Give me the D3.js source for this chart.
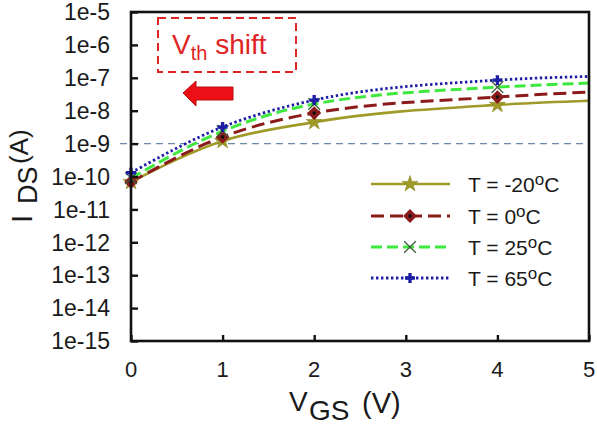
<!DOCTYPE html>
<html>
<head>
<meta charset="utf-8">
<script src="https://cdn.jsdelivr.net/npm/d3@7"></script>
<style>
  html, body { margin: 0; padding: 0; background: #fff; }
  svg { display: block; font-family: Arial, "Liberation Sans", sans-serif; }
</style>
</head>
<body>
<svg id="chart" width="597" height="434"></svg>
<script>
// Gate voltage sweep (V) and drain current (A) per temperature
const vgs = [0, 1, 2, 4, 5];
const markedVgs = [0, 1, 2, 4];
const idsM20 = [6.8e-11, 1.2e-9, 4.5e-9, 1.5e-8, 2.0e-8];
const ids0   = [6.8e-11, 1.6e-9, 8.5e-9, 2.6e-8, 3.7e-8];
const ids25  = [8.9e-11, 2.4e-9, 1.6e-8, 5.2e-8, 6.9e-8];
const ids65  = [1.3e-10, 3.2e-9, 2.1e-8, 8.5e-8, 1.1e-7];
const seriesLabels = ["-20", "0", "25", "65"];
const xTicks = [0, 1, 2, 3, 4, 5];
const yTickExps = [-5, -6, -7, -8, -9, -10, -11, -12, -13, -14, -15];
const referenceCurrent = 1e-9;

const svg = d3.select("#chart");
const plotLeft = 131, plotRight = 589, plotTop = 12, plotBottom = 341;

const x = d3.scaleLinear().domain([0, 5]).range([plotLeft, plotRight]);
const y = d3.scaleLog().domain([1e-15, 1e-5]).range([plotBottom, plotTop]);

const styles = [
  { color: "#a09a28", dash: null, width: 2.6, marker: "star" },
  { color: "#8b1b1b", dash: "13,6", width: 3, marker: "diamond" },
  { color: "#3ee83e", dash: "11,5", width: 3, marker: "times" },
  { color: "#1c1ca4", dash: "2.4,2.6", width: 2.8, marker: "plus" }
];
const allSeries = [idsM20, ids0, ids25, ids65];

// horizontal reference at 1 nA
svg.append("line")
  .attr("x1", plotLeft - 11).attr("x2", plotRight)
  .attr("y1", y(referenceCurrent)).attr("y2", y(referenceCurrent))
  .attr("stroke", "#6d8aa6").attr("stroke-width", 1.3)
  .attr("stroke-dasharray", "7,5");

// curves
const line = d3.line()
  .x(d => x(d[0])).y(d => y(d[1]))
  .curve(d3.curveMonotoneX);

const defs = svg.append("defs");
defs.append("clipPath").attr("id", "plotClip")
  .append("rect").attr("x", plotLeft).attr("y", plotTop)
  .attr("width", plotRight - plotLeft).attr("height", plotBottom - plotTop);

const plot = svg.append("g").attr("clip-path", "url(#plotClip)");

function drawMarker(g, kind, color, cx, cy) {
  if (kind === "star") {
    g.append("path").attr("d", d3.symbol(d3.symbolStar, 80)())
      .attr("transform", `translate(${cx},${cy})`)
      .attr("fill", color).attr("stroke", "#8a8420").attr("stroke-width", 0.6);
  } else if (kind === "diamond") {
    g.append("path").attr("d", d3.symbol(d3.symbolSquare, 95)())
      .attr("transform", `translate(${cx},${cy}) rotate(45)`)
      .attr("fill", color);
    g.append("circle").attr("cx", cx).attr("cy", cy).attr("r", 1.8).attr("fill", "#111");
  } else if (kind === "times") {
    g.append("path").attr("d", d3.symbol(d3.symbolTimes, 90)())
      .attr("transform", `translate(${cx},${cy})`)
      .attr("fill", "none").attr("stroke", "#3f5f3f").attr("stroke-width", 1.3);
  } else if (kind === "plus") {
    g.append("path").attr("d", d3.symbol(d3.symbolCross, 55)())
      .attr("transform", `translate(${cx},${cy})`)
      .attr("fill", color);
  }
}

allSeries.forEach((vals, i) => {
  const s = styles[i];
  const pts = vgs.map((v, j) => [v, vals[j]]);
  plot.append("path").datum(pts)
    .attr("d", line)
    .attr("fill", "none")
    .attr("stroke", s.color)
    .attr("stroke-width", s.width)
    .attr("stroke-dasharray", s.dash);
});
allSeries.forEach((vals, i) => {
  const s = styles[i];
  vgs.forEach((v, j) => {
    if (markedVgs.includes(v)) drawMarker(svg, s.marker, s.color, x(v), y(vals[j]));
  });
});

// frame
svg.append("rect")
  .attr("x", plotLeft).attr("y", plotTop)
  .attr("width", plotRight - plotLeft).attr("height", plotBottom - plotTop)
  .attr("fill", "none").attr("stroke", "#111").attr("stroke-width", 2.6);

// axes with inward ticks
const yAxis = d3.axisRight(y)
  .tickValues(yTickExps.map(e => Math.pow(10, e)))
  .tickSize(7).tickFormat("");
const gy = svg.append("g").attr("transform", `translate(${plotLeft},0)`).call(yAxis);
gy.select(".domain").remove();
gy.selectAll(".tick line").attr("stroke", "#111").attr("stroke-width", 2.4);

svg.append("g").selectAll("text")
  .data(yTickExps)
  .join("text")
  .attr("x", 110)
  .attr("y", e => y(Math.pow(10, e)))
  .attr("dy", "0.36em")
  .attr("text-anchor", "end")
  .attr("font-size", 23)
  .attr("fill", "#1a1a1a")
  .text(e => "1e" + e);

const xAxis = d3.axisTop(x).tickValues(xTicks).tickSize(6).tickFormat("");
const gx = svg.append("g").attr("transform", `translate(0,${plotBottom})`).call(xAxis);
gx.select(".domain").remove();
gx.selectAll(".tick line").attr("stroke", "#111").attr("stroke-width", 2.4);

svg.append("g").selectAll("text")
  .data(xTicks)
  .join("text")
  .attr("x", d => x(d))
  .attr("y", 377)
  .attr("text-anchor", "middle")
  .attr("font-size", 22)
  .attr("fill", "#1a1a1a")
  .text(d => d);

// axis titles
const xt = svg.append("text").attr("fill", "#1a1a1a");
xt.append("tspan").attr("x", 289).attr("y", 411).attr("font-size", 28).text("V");
xt.append("tspan").attr("x", 309).attr("y", 420).attr("font-size", 28).text("GS");
xt.append("tspan").attr("x", 362).attr("y", 413).attr("font-size", 29).text("(V)");

const yt = svg.append("text").attr("fill", "#1a1a1a").attr("transform", "rotate(-90)");
yt.append("tspan").attr("x", -223).attr("y", 32).attr("font-size", 30).text("I");
yt.append("tspan").attr("x", -204).attr("y", 37).attr("font-size", 27).text("DS");
yt.append("tspan").attr("x", -164).attr("y", 28).attr("font-size", 26).text("(A)");

// legend
const legendRows = [184, 216, 247, 278];
allSeries.forEach((vals, i) => {
  const s = styles[i];
  const ly = legendRows[i];
  svg.append("line")
    .attr("x1", 371).attr("x2", 450).attr("y1", ly).attr("y2", ly)
    .attr("stroke", s.color).attr("stroke-width", s.width)
    .attr("stroke-dasharray", s.dash);
  drawMarker(svg, s.marker, s.color, 410, ly);
  const t = svg.append("text").attr("x", 468).attr("y", ly + 7.5)
    .attr("font-size", 21).attr("fill", "#1a1a1a");
  t.append("tspan").text("T = " + seriesLabels[i]);
  t.append("tspan").attr("font-size", 17).attr("dy", -7).text("o");
  t.append("tspan").attr("dy", 7).text("C");
});

// threshold-shift annotation
svg.append("rect")
  .attr("x", 158).attr("y", 18).attr("width", 138).attr("height", 54)
  .attr("fill", "none").attr("stroke", "#e02424").attr("stroke-width", 2)
  .attr("stroke-dasharray", "8,5");
const vt = svg.append("text").attr("fill", "#e02424");
vt.append("tspan").attr("x", 172).attr("y", 54).attr("font-size", 28).text("V");
vt.append("tspan").attr("dy", 6).attr("font-size", 20).text("th");
vt.append("tspan").attr("dy", -6).attr("font-size", 28).text(" shift");

const arrow = d3.path();
arrow.moveTo(183, 93);
arrow.lineTo(196, 81);
arrow.lineTo(196, 87);
arrow.lineTo(233, 87);
arrow.lineTo(233, 100);
arrow.lineTo(196, 100);
arrow.lineTo(196, 106);
arrow.closePath();
svg.append("path").attr("d", arrow.toString())
  .attr("fill", "#ec1016").attr("stroke", "#b80c10").attr("stroke-width", 1);
</script>
</body>
</html>
